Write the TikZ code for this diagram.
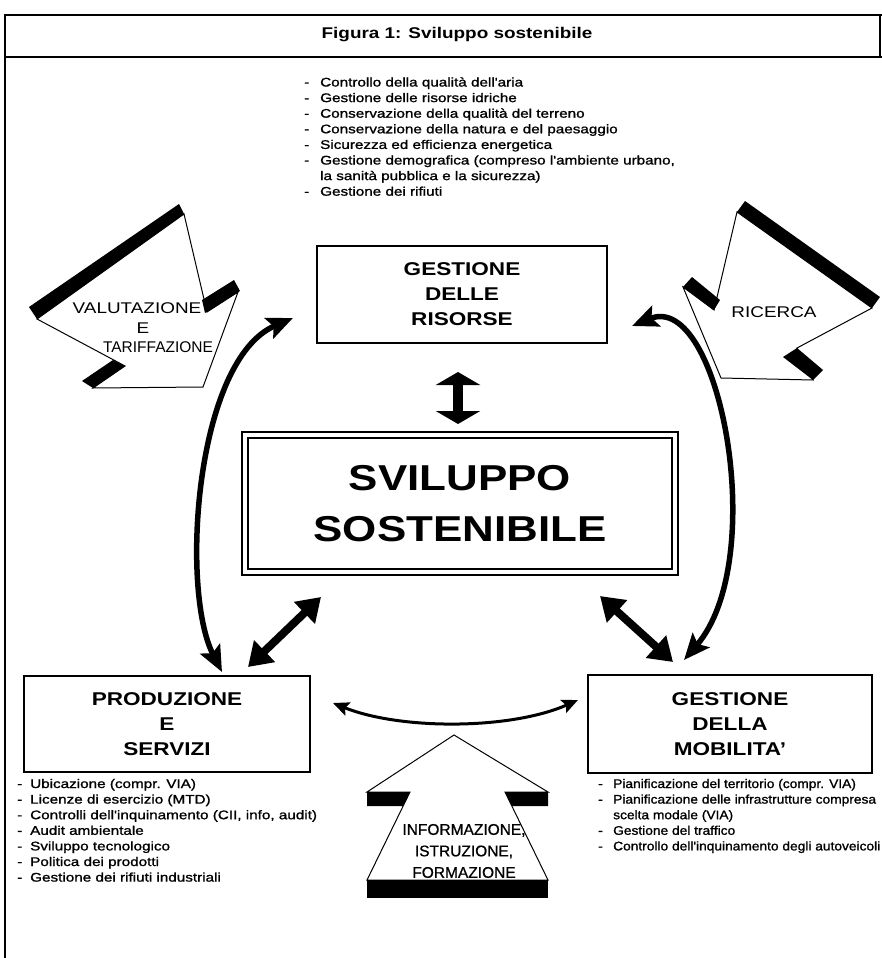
\documentclass[tikz,border=0pt]{standalone}
\usepackage{fontspec}
\setmainfont{Liberation Sans}[FakeStretch=1.22]
\newfontfamily\narrowfont{Liberation Sans}
\newfontfamily\listfont{Liberation Sans}[FakeStretch=1.22,FakeBold=1.2]
\newfontfamily\midfont{Liberation Sans}[FakeStretch=1.1,FakeBold=1.2]
\newfontfamily\infofont{Liberation Sans}[FakeBold=0.8]
\usetikzlibrary{arrows.meta}
\begin{document}
\begin{tikzpicture}[x=1pt,y=-1pt,
  frameline/.style={line width=1.2pt},
  boxtitle/.style={draw, line width=1.1pt, align=center, inner sep=0pt, font=\bfseries\fontsize{18.5}{25}\selectfont},
  listtext/.style={anchor=base west, inner sep=0pt, font=\listfont\fontsize{12.5}{15.6}\selectfont},
  arrowlabel/.style={inner sep=0pt, font=\fontsize{15.5}{20}\selectfont},
  blockarrow/.style={fill=white, draw, line width=1pt, line join=miter},
  band/.style={fill=black},
  bigcurve/.style={line width=5.5pt, {Stealth[length=26pt,width=22pt,inset=5pt]}-{Stealth[length=26pt,width=22pt,inset=5pt]}},
  diagarrow/.style={line width=8pt, {Triangle[length=23pt,width=29pt]}-{Triangle[length=23pt,width=29pt]}},
  vertarrow/.style={line width=10pt, {Triangle[length=13pt,width=44pt]}-{Triangle[length=13pt,width=44pt]}},
  smallcurve/.style={line width=3pt, {Stealth[length=16pt,width=14pt,inset=3pt]}-{Stealth[length=16pt,width=14pt,inset=3pt]}}
]
\useasboundingbox (0,0) rectangle (882,958);
\fill[white] (0,0) rectangle (882,958);

% frame and header
\draw[frameline] (882,15) -- (5,15) -- (5,958);
\draw[frameline] (5,57) -- (882,57);
\draw[frameline] (880,15) -- (880,57);
\node[font=\bfseries\fontsize{15.5}{18}\selectfont, inner sep=0pt] (title) at (457,35) {Figura 1: Sviluppo sostenibile};

% top list
\node[listtext] (toplist) at (304,86.5) {\begin{tabular}[t]{@{}p{16pt}@{}l@{}}
- & Controllo della qualità dell'aria\\
- & Gestione delle risorse idriche\\
- & Conservazione della qualità del terreno\\
- & Conservazione della natura e del paesaggio\\
- & Sicurezza ed efficienza energetica\\
- & Gestione demografica (compreso l'ambiente urbano,\\
  & la sanità pubblica e la sicurezza)\\
- & Gestione dei rifiuti
\end{tabular}};

% boxes
\node[boxtitle, minimum width=290, minimum height=97] (ris) at (462,294.5) {GESTIONE\\DELLE\\RISORSE};
\node[draw, line width=1.1pt, minimum width=436, minimum height=143, inner sep=0pt] (coreout) at (460,503.5) {};
\node[draw, line width=1.1pt, minimum width=424, minimum height=131, inner sep=0pt, align=center, font=\bfseries\fontsize{36}{51}\selectfont] (core) at (460,503.5) {SVILUPPO\\SOSTENIBILE};
\node[boxtitle, minimum width=286, minimum height=96] (prod) at (167,724) {PRODUZIONE\\E\\SERVIZI};
\node[boxtitle, minimum width=284, minimum height=98] (mob) at (730,724) {GESTIONE\\DELLA\\MOBILITA'};

% bottom lists
\node[listtext] (prodlist) at (17,788) {\begin{tabular}[t]{@{}p{13pt}@{}l@{}}
- & Ubicazione (compr. VIA)\\
- & Licenze di esercizio (MTD)\\
- & Controlli dell'inquinamento (CII, info, audit)\\
- & Audit ambientale\\
- & Sviluppo tecnologico\\
- & Politica dei prodotti\\
- & Gestione dei rifiuti industriali
\end{tabular}};
\node[listtext, font=\midfont\fontsize{12.5}{15.6}\selectfont] (moblist) at (598,788) {\begin{tabular}[t]{@{}p{15pt}@{}l@{}}
- & Pianificazione del territorio (compr. VIA)\\
- & Pianificazione delle infrastrutture compresa\\
  & scelta modale (VIA)\\
- & Gestione del traffico\\
- & Controllo dell'inquinamento degli autoveicoli
\end{tabular}};

% VALUTAZIONE block arrow
\draw[blockarrow] (37,319) -- (184,214) -- (207,312) -- (238,292) -- (203,387) -- (93,388) -- (125,366) -- cycle;
\fill[band] (37,319) -- (184,214) -- (179,204) -- (29,307) -- cycle;
\fill[band] (205,313) -- (240,291) -- (234,280) -- (202,300) -- cycle;
\fill[band] (93,388) -- (125,366) -- (113,360) -- (82,381) -- cycle;
\node[arrowlabel] (valut) at (137,308) {VALUTAZIONE};
\node[arrowlabel] (valE) at (143,328) {E};
\node[arrowlabel, font=\narrowfont\fontsize{15.5}{20}\selectfont] (tarif) at (158,347) {TARIFFAZIONE};

% RICERCA block arrow
\draw[blockarrow] (737,212) -- (872,308) -- (797,348) -- (813,380) -- (721,378) -- (683,287) -- (714,310) -- cycle;
\fill[band] (737,212) -- (872,308) -- (880,297) -- (745,201) -- cycle;
\fill[band] (683,287) -- (714,310) -- (720,300) -- (692,277) -- cycle;
\fill[band] (783,357) -- (797,348) -- (823,370) -- (813,380) -- cycle;
\node[arrowlabel] (ric) at (774,312) {RICERCA};

% INFORMAZIONE block arrow
\draw[blockarrow] (454,735) -- (548,792) -- (505,792) -- (548,880) -- (367,880) -- (410,792) -- (367,792) -- cycle;
\fill[band] (367,792) -- (410,792) -- (403,806) -- (367,806) -- cycle;
\fill[band] (505,792) -- (548,792) -- (548,806) -- (512,806) -- cycle;
\fill[band] (367,880) -- (548,880) -- (548,898) -- (367,898) -- cycle;
\node[arrowlabel, font=\infofont\fontsize{15.5}{21.5}\selectfont, align=center] (info) at (464,851) {INFORMAZIONE,\\ISTRUZIONE,\\FORMAZIONE};

% connectors
\coordinate (lcA) at (222,672);
\coordinate (lcB) at (293,318);
\draw[bigcurve] (lcA) .. controls (180,590) and (195,360) .. (lcB);
\coordinate (rcA) at (632,326);
\coordinate (rcB) at (684,660);
\draw[bigcurve] (rcA) .. controls (720,290) and (770,560) .. (rcB);
\coordinate (dlA) at (248,667);
\coordinate (dlB) at (321,597);
\draw[diagarrow] (dlA) -- (dlB);
\coordinate (drA) at (600,596);
\coordinate (drB) at (673,662);
\draw[diagarrow] (drA) -- (drB);
\coordinate (vA) at (458,372);
\coordinate (vB) at (458,424);
\draw[vertarrow] (vA) -- (vB);
\coordinate (scA) at (333,703);
\coordinate (scB) at (578,700);
\draw[smallcurve] (scA) .. controls (400,730) and (510,730) .. (scB);
\end{tikzpicture}
\end{document}
